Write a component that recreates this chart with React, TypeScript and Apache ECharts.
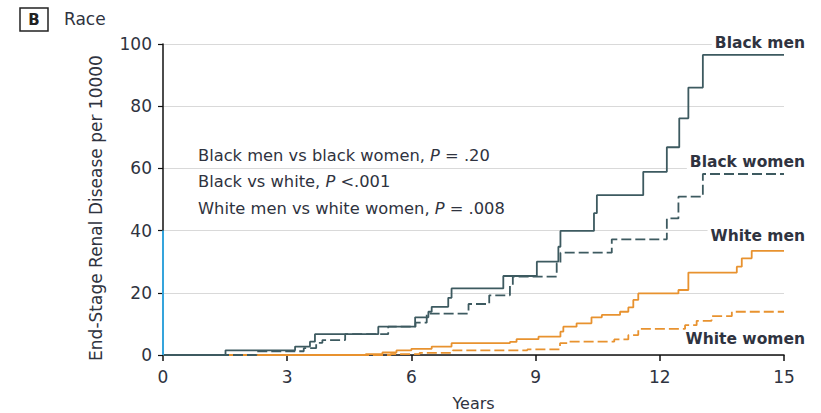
import React, { useEffect, useRef } from "react";
import * as echarts from "echarts";

const xTicks = [0, 3, 6, 9, 12, 15];
const yTicks = [0, 20, 40, 60, 80, 100];

const blackMen: [number, number][] = [
  [0, 0], [1.51, 1.5], [3.19, 2.7], [3.55, 4.3], [3.67, 6.7], [5.2, 9.1], [6.09, 12.1],
  [6.41, 13.9], [6.49, 15.5], [6.89, 18.4], [6.97, 21.4], [8.22, 25.4], [9.03, 30.0],
  [9.55, 34.8], [9.6, 39.9], [10.41, 45.6], [10.48, 51.4], [11.6, 58.9], [12.17, 66.8],
  [12.47, 76.1], [12.69, 86.0], [13.04, 96.5], [15, 96.5],
];
const blackWomen: [number, number][] = [
  [0, 0], [2.26, 1.2], [3.4, 2.2], [3.7, 3.9], [3.85, 4.8], [4.4, 6.7], [5.44, 9.1],
  [6.1, 10.4], [6.37, 13.3], [7.38, 16.4], [7.88, 19.2], [8.38, 22.5], [8.45, 25.2],
  [9.51, 29.5], [9.6, 32.9], [10.84, 37.2], [12.17, 43.9], [12.45, 50.9], [13.04, 58.2],
  [15, 58.2],
];
const whiteMen: [number, number][] = [
  [0, 0], [4.9, 0.3], [5.3, 0.8], [5.64, 1.5], [6.0, 2.0], [6.49, 2.7], [6.97, 3.8],
  [8.38, 4.2], [8.54, 5.1], [9.07, 5.9], [9.6, 7.5], [9.67, 9.1], [9.99, 10.2],
  [10.35, 12.1], [10.6, 12.9], [11.04, 13.9], [11.24, 15.3], [11.36, 17.7], [11.48, 19.8],
  [12.45, 20.9], [12.69, 26.5], [13.86, 28.4], [13.98, 31.1], [14.22, 33.5], [15, 33.5],
];
const whiteWomen: [number, number][] = [
  [0, 0], [5.5, 0.3], [6.2, 0.7], [7.0, 1.5], [8.8, 1.8], [9.59, 3.8], [9.79, 4.3],
  [10.9, 5.0], [11.24, 6.4], [11.48, 8.4], [12.61, 9.6], [12.89, 11.0], [13.25, 12.5],
  [13.74, 13.9], [15, 13.9],
];

const seriesLabels = ["Black men", "Black women", "White men", "White women"];
const pLines = [
  ["Black men vs black women, ", "P", " = .20"],
  ["Black vs white, ", "P", " <.001"],
  ["White men vs white women, ", "P", " = .008"],
];

const DARK = "#3d5a60";
const ORANGE = "#e8922f";
const TEXT = "#2f3340";
const FONT = "'DejaVu Sans', sans-serif";

export default function App() {
  const ref = useRef<HTMLDivElement>(null);
  useEffect(() => {
    if (!ref.current) return;
    const chart = echarts.init(ref.current, undefined, { renderer: "svg" });
    const lineSeries = (name: string, data: [number, number][], color: string, dashed: boolean, extra: any = {}) => ({
      name,
      type: "line",
      step: "end",
      data,
      showSymbol: false,
      symbol: "none",
      lineStyle: { color, width: 1.8, type: dashed ? [10, 4] : "solid" },
      z: 3,
      ...extra,
    });
    const labelPos = [
      [805, 43],
      [805, 162],
      [805, 236],
      [805, 339],
    ];
    chart.setOption({
      animation: false,
      textStyle: { fontFamily: FONT },
      grid: { left: 163, right: 37, top: 44, bottom: 58, containLabel: false, outerBoundsMode: "none" },
      xAxis: {
        type: "value",
        min: 0,
        max: 15,
        interval: 3,
        name: "Years",
        nameLocation: "middle",
        nameGap: 40,
        nameTextStyle: { fontSize: 16, color: TEXT, fontFamily: FONT },
        axisLine: { show: true, lineStyle: { color: "#111", width: 1.5 } },
        axisTick: { show: true, length: 6, lineStyle: { color: "#111", width: 1.5 } },
        axisLabel: {
          fontSize: 17,
          color: TEXT,
          margin: 13,
          fontFamily: FONT,
          formatter: (v: number) => (xTicks.includes(v) ? String(v) : ""),
        },
        splitLine: { show: false },
      },
      yAxis: {
        type: "value",
        min: 0,
        max: 100,
        interval: 20,
        axisLine: { show: true, lineStyle: { color: "#111", width: 1.5 } },
        axisTick: { show: true, length: 5, lineStyle: { color: "#111", width: 1.2 } },
        axisLabel: {
          fontSize: 17,
          color: TEXT,
          margin: 11,
          fontFamily: FONT,
          formatter: (v: number) => (yTicks.includes(v) ? String(v) : ""),
        },
        splitLine: { show: true, lineStyle: { color: "#d9d9d9", width: 1.2 } },
      },
      series: [
        lineSeries("White women", whiteWomen, ORANGE, true),
        lineSeries("White men", whiteMen, ORANGE, false),
        lineSeries("Black women", blackWomen, DARK, true),
        lineSeries("Black men", blackMen, DARK, false, {
          markLine: {
            silent: true,
            symbol: "none",
            label: { show: false },
            lineStyle: { color: "#35a4dc", width: 2, type: "solid" },
            data: [[{ coord: [0, 0] }, { coord: [0, 40] }]],
          },
        }),
      ],
      graphic: [
        {
          type: "rect",
          shape: { x: 20, y: 8, width: 28, height: 23 },
          style: { fill: "#fff", stroke: "#222", lineWidth: 1.5 },
        },
        {
          type: "text",
          x: 34,
          y: 20,
          style: { text: "B", fontSize: 15, fontWeight: "bold", fill: "#222", align: "center", verticalAlign: "middle", fontFamily: FONT },
        },
        {
          type: "text",
          x: 64,
          y: 19,
          style: { text: "Race", fontSize: 17, fill: TEXT, align: "left", verticalAlign: "middle", fontFamily: FONT },
        },
        {
          type: "text",
          x: 96,
          y: 208,
          rotation: Math.PI / 2,
          style: {
            text: "End-Stage Renal Disease per 10000",
            fontSize: 17,
            fill: TEXT,
            align: "center",
            verticalAlign: "middle",
            fontFamily: FONT,
          },
        },
        ...pLines.map((parts, i) => ({
          type: "text",
          x: 198,
          y: 155 + i * 26.5,
          style: {
            text: `{n|${parts[0]}}{i|${parts[1]}}{n|${parts[2]}}`,
            verticalAlign: "middle",
            align: "left",
            rich: {
              n: { fontSize: 16.3, fill: TEXT, fontFamily: FONT },
              i: { fontSize: 16.3, fill: TEXT, fontStyle: "italic", fontFamily: FONT },
            },
          },
        })),
        ...seriesLabels.map((t, i) => ({
          type: "text",
          x: labelPos[i][0],
          y: labelPos[i][1],
          z: 10,
          style: {
            text: t,
            fontSize: 15.5,
            fontWeight: "bold",
            fill: TEXT,
            align: "right",
            verticalAlign: "middle",
            fontFamily: FONT,
            backgroundColor: "#fff",
            padding: [0, 0, 0, 3],
          },
        })),
      ],
    });
    return () => chart.dispose();
  }, []);
  return <div ref={ref} style={{ width: 821, height: 413, position: "absolute", left: 0, top: 0 }} />;
}
